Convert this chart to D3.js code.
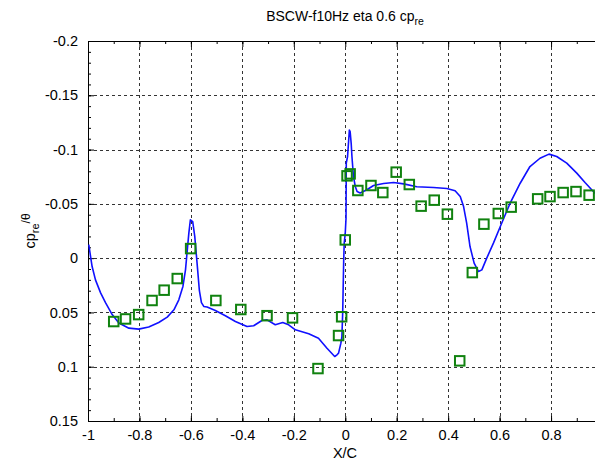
<!DOCTYPE html>
<html>
<head>
<meta charset="utf-8">
<script src="https://cdn.jsdelivr.net/npm/d3@7"></script>
<style>
  html, body { margin: 0; padding: 0; background: #fff; }
  svg { display: block; }
  text { font-family: "Liberation Sans", Arial, sans-serif; fill: #000; }
</style>
</head>
<body>
<svg id="chart" width="595" height="463"></svg>
<script>
// Computed pressure response (blue line): chordwise station and cp_re/theta
const lineX = [-0.997, -0.99, -0.984, -0.971, -0.951, -0.932, -0.906, -0.88, -0.841, -0.803,
  -0.764, -0.725, -0.692, -0.666, -0.647, -0.631, -0.621, -0.614, -0.608, -0.602,
  -0.593, -0.585, -0.576, -0.567, -0.559, -0.55, -0.537, -0.505, -0.466, -0.427,
  -0.382, -0.356, -0.324, -0.304, -0.272, -0.243, -0.22, -0.194, -0.142, -0.104,
  -0.071, -0.041, -0.032, -0.026, -0.017, -0.013, -0.01, -0.006, -0.004, 0.0,
  0.003, 0.004, 0.009, 0.016, 0.019, 0.023, 0.026, 0.032, 0.039, 0.046,
  0.058, 0.084, 0.11, 0.149, 0.188, 0.227, 0.278, 0.343, 0.395, 0.427,
  0.447, 0.46, 0.472, 0.485, 0.501, 0.518, 0.531, 0.55, 0.576, 0.608,
  0.641, 0.68, 0.718, 0.757, 0.792, 0.822, 0.861, 0.9, 0.932, 0.958, 1.0];
const lineY = [-0.0125, -0.0015, 0.0077, 0.02, 0.032, 0.041, 0.052, 0.0598, 0.0645, 0.0654,
  0.0635, 0.0593, 0.0543, 0.0476, 0.0384, 0.0261, 0.0108, -0.0076, -0.023, -0.0353,
  -0.0337, -0.02, 0.0046, 0.03, 0.041, 0.0445, 0.045, 0.0482, 0.0531, 0.0584,
  0.063, 0.0623, 0.0574, 0.0568, 0.0614, 0.0593, 0.0614, 0.066, 0.0697, 0.0737,
  0.083, 0.0906, 0.089, 0.0875, 0.0783, 0.0722, 0.0506, 0.0016, -0.0138, -0.023,
  -0.0368, -0.0875, -0.0936, -0.118, -0.1166, -0.106, -0.0936, -0.075, -0.066, -0.0613,
  -0.06, -0.063, -0.0669, -0.0687, -0.0696, -0.0684, -0.0657, -0.065, -0.0641, -0.062,
  -0.0567, -0.0475, -0.0322, -0.0107, 0.0046, 0.0123, 0.0108, 0.0, -0.0138, -0.0322,
  -0.0506, -0.069, -0.0844, -0.092, -0.0958, -0.0936, -0.0875, -0.0783, -0.0696, -0.063, -0.053];

// Measured pressure taps (green squares)
const tapX = [-0.9, -0.854, -0.803, -0.751, -0.704, -0.653, -0.601, -0.503, -0.406, -0.304,
  -0.205, -0.106, -0.026, -0.014, 0.0, 0.007, 0.019, 0.049, 0.1, 0.146,
  0.198, 0.249, 0.295, 0.346, 0.397, 0.445, 0.494, 0.539, 0.595, 0.645,
  0.748, 0.796, 0.847, 0.897, 0.948];
const tapY = [0.0584, 0.056, 0.052, 0.039, 0.0295, 0.0188, -0.0088, 0.039, 0.0473, 0.053,
  0.055, 0.1017, 0.0713, 0.054, -0.0168, -0.0758, -0.0776, -0.0623, -0.0669, -0.0604,
  -0.0792, -0.0678, -0.0479, -0.0534, -0.0405, 0.0946, 0.0133, -0.0313, -0.0411, -0.047,
  -0.0546, -0.0567, -0.0604, -0.0613, -0.058];

// Axis ticks
const xTicks = [-1, -0.8, -0.6, -0.4, -0.2, 0, 0.2, 0.4, 0.6, 0.8];
const xTickLabels = ["-1", "-0.8", "-0.6", "-0.4", "-0.2", "0", "0.2", "0.4", "0.6", "0.8"];
const yTicks = [-0.2, -0.15, -0.1, -0.05, 0, 0.05, 0.1, 0.15];
const yTickLabels = ["-0.2", "-0.15", "-0.1", "-0.05", "0", "0.05", "0.1", "0.15"];

const svg = d3.select("#chart");
svg.append("rect").attr("width", 595).attr("height", 463).attr("fill", "#fff");

const plotL = 88, plotR = 602.5, plotT = 41, plotB = 421;
const x = d3.scaleLinear().domain([-1, 1]).range([plotL, plotR]);
const y = d3.scaleLinear().domain([-0.2, 0.15]).range([plotT, plotB]);

// dotted grid
const grid = svg.append("g").attr("stroke", "#333").attr("stroke-width", 1)
  .attr("stroke-dasharray", "3,3").attr("shape-rendering", "crispEdges");
grid.selectAll("line.gx").data(xTicks.filter(v => v > -1)).join("line")
  .attr("x1", d => Math.round(x(d)) + 0.5).attr("x2", d => Math.round(x(d)) + 0.5)
  .attr("y1", plotT).attr("y2", plotB);
grid.selectAll("line.gy").data(yTicks.filter(v => v > -0.2 && v < 0.15)).join("line")
  .attr("y1", d => Math.round(y(d)) + 0.5).attr("y2", d => Math.round(y(d)) + 0.5)
  .attr("x1", plotL).attr("x2", plotR);

// axes
const minorX = d3.range(-1, 1.0001, 0.1).map(v => +v.toFixed(2));
const minorY = d3.range(-0.2, 0.15001, 0.01).map(v => +v.toFixed(3));

const axB = d3.axisBottom(x).tickValues(xTicks).tickFormat((d, i) => xTickLabels[i])
  .tickSizeInner(-5).tickSizeOuter(0).tickPadding(9);
svg.append("g").attr("transform", `translate(0,${plotB})`).call(axB);
const axBm = d3.axisBottom(x).tickValues(minorX).tickFormat("").tickSizeInner(-3).tickSizeOuter(0);
svg.append("g").attr("transform", `translate(0,${plotB})`).call(axBm);

const axT = d3.axisTop(x).tickValues(xTicks).tickFormat("").tickSizeInner(-6).tickSizeOuter(0);
svg.append("g").attr("transform", `translate(0,${plotT})`).call(axT);
const axTm = d3.axisTop(x).tickValues(minorX).tickFormat("").tickSizeInner(-3).tickSizeOuter(0);
svg.append("g").attr("transform", `translate(0,${plotT})`).call(axTm);

const axL = d3.axisLeft(y).tickValues(yTicks).tickFormat((d, i) => yTickLabels[i])
  .tickSizeInner(-6).tickSizeOuter(0).tickPadding(10);
svg.append("g").attr("transform", `translate(${plotL},0)`).call(axL);
const axLm = d3.axisLeft(y).tickValues(minorY).tickFormat("").tickSizeInner(-3).tickSizeOuter(0);
svg.append("g").attr("transform", `translate(${plotL},0)`).call(axLm);

svg.selectAll(".domain").attr("stroke", "#000");
svg.selectAll(".tick line").attr("stroke", "#000");
svg.selectAll(".tick text").attr("font-size", 14.5).attr("font-family", '"Liberation Sans", Arial, sans-serif');

// clip for data
svg.append("clipPath").attr("id", "plotclip").append("rect")
  .attr("x", plotL).attr("y", plotT).attr("width", plotR - plotL).attr("height", plotB - plotT);

const lineData = lineX.map((v, i) => [v, lineY[i]]);
svg.append("path").datum(lineData)
  .attr("clip-path", "url(#plotclip)")
  .attr("fill", "none").attr("stroke", "#1010ff").attr("stroke-width", 1.6)
  .attr("stroke-linejoin", "round")
  .attr("d", d3.line().x(d => x(d[0])).y(d => y(d[1])));

const s = 9.5;
svg.append("g").selectAll("rect").data(tapX.map((v, i) => [v, tapY[i]])).join("rect")
  .attr("x", d => x(d[0]) - s / 2).attr("y", d => y(d[1]) - s / 2)
  .attr("width", s).attr("height", s)
  .attr("fill", "none").attr("stroke", "#10820f").attr("stroke-width", 2);

// title
const title = svg.append("text").attr("x", 345).attr("y", 21).attr("text-anchor", "middle")
  .attr("font-size", 14);
title.append("tspan").text("BSCW-f10Hz eta 0.6 cp");
title.append("tspan").attr("font-size", 10.5).attr("dy", 4).text("re");

// x label
svg.append("text").attr("x", 345).attr("y", 458).attr("text-anchor", "middle")
  .attr("font-size", 14.5).text("X/C");

// y label
const yl = svg.append("text").attr("transform", "translate(35,231) rotate(-90)")
  .attr("text-anchor", "middle").attr("font-size", 14.5);
yl.append("tspan").text("cp");
yl.append("tspan").attr("font-size", 11).attr("dy", 4).text("re");
yl.append("tspan").attr("font-size", 12).attr("dy", -9).text("/θ");
</script>
</body>
</html>
